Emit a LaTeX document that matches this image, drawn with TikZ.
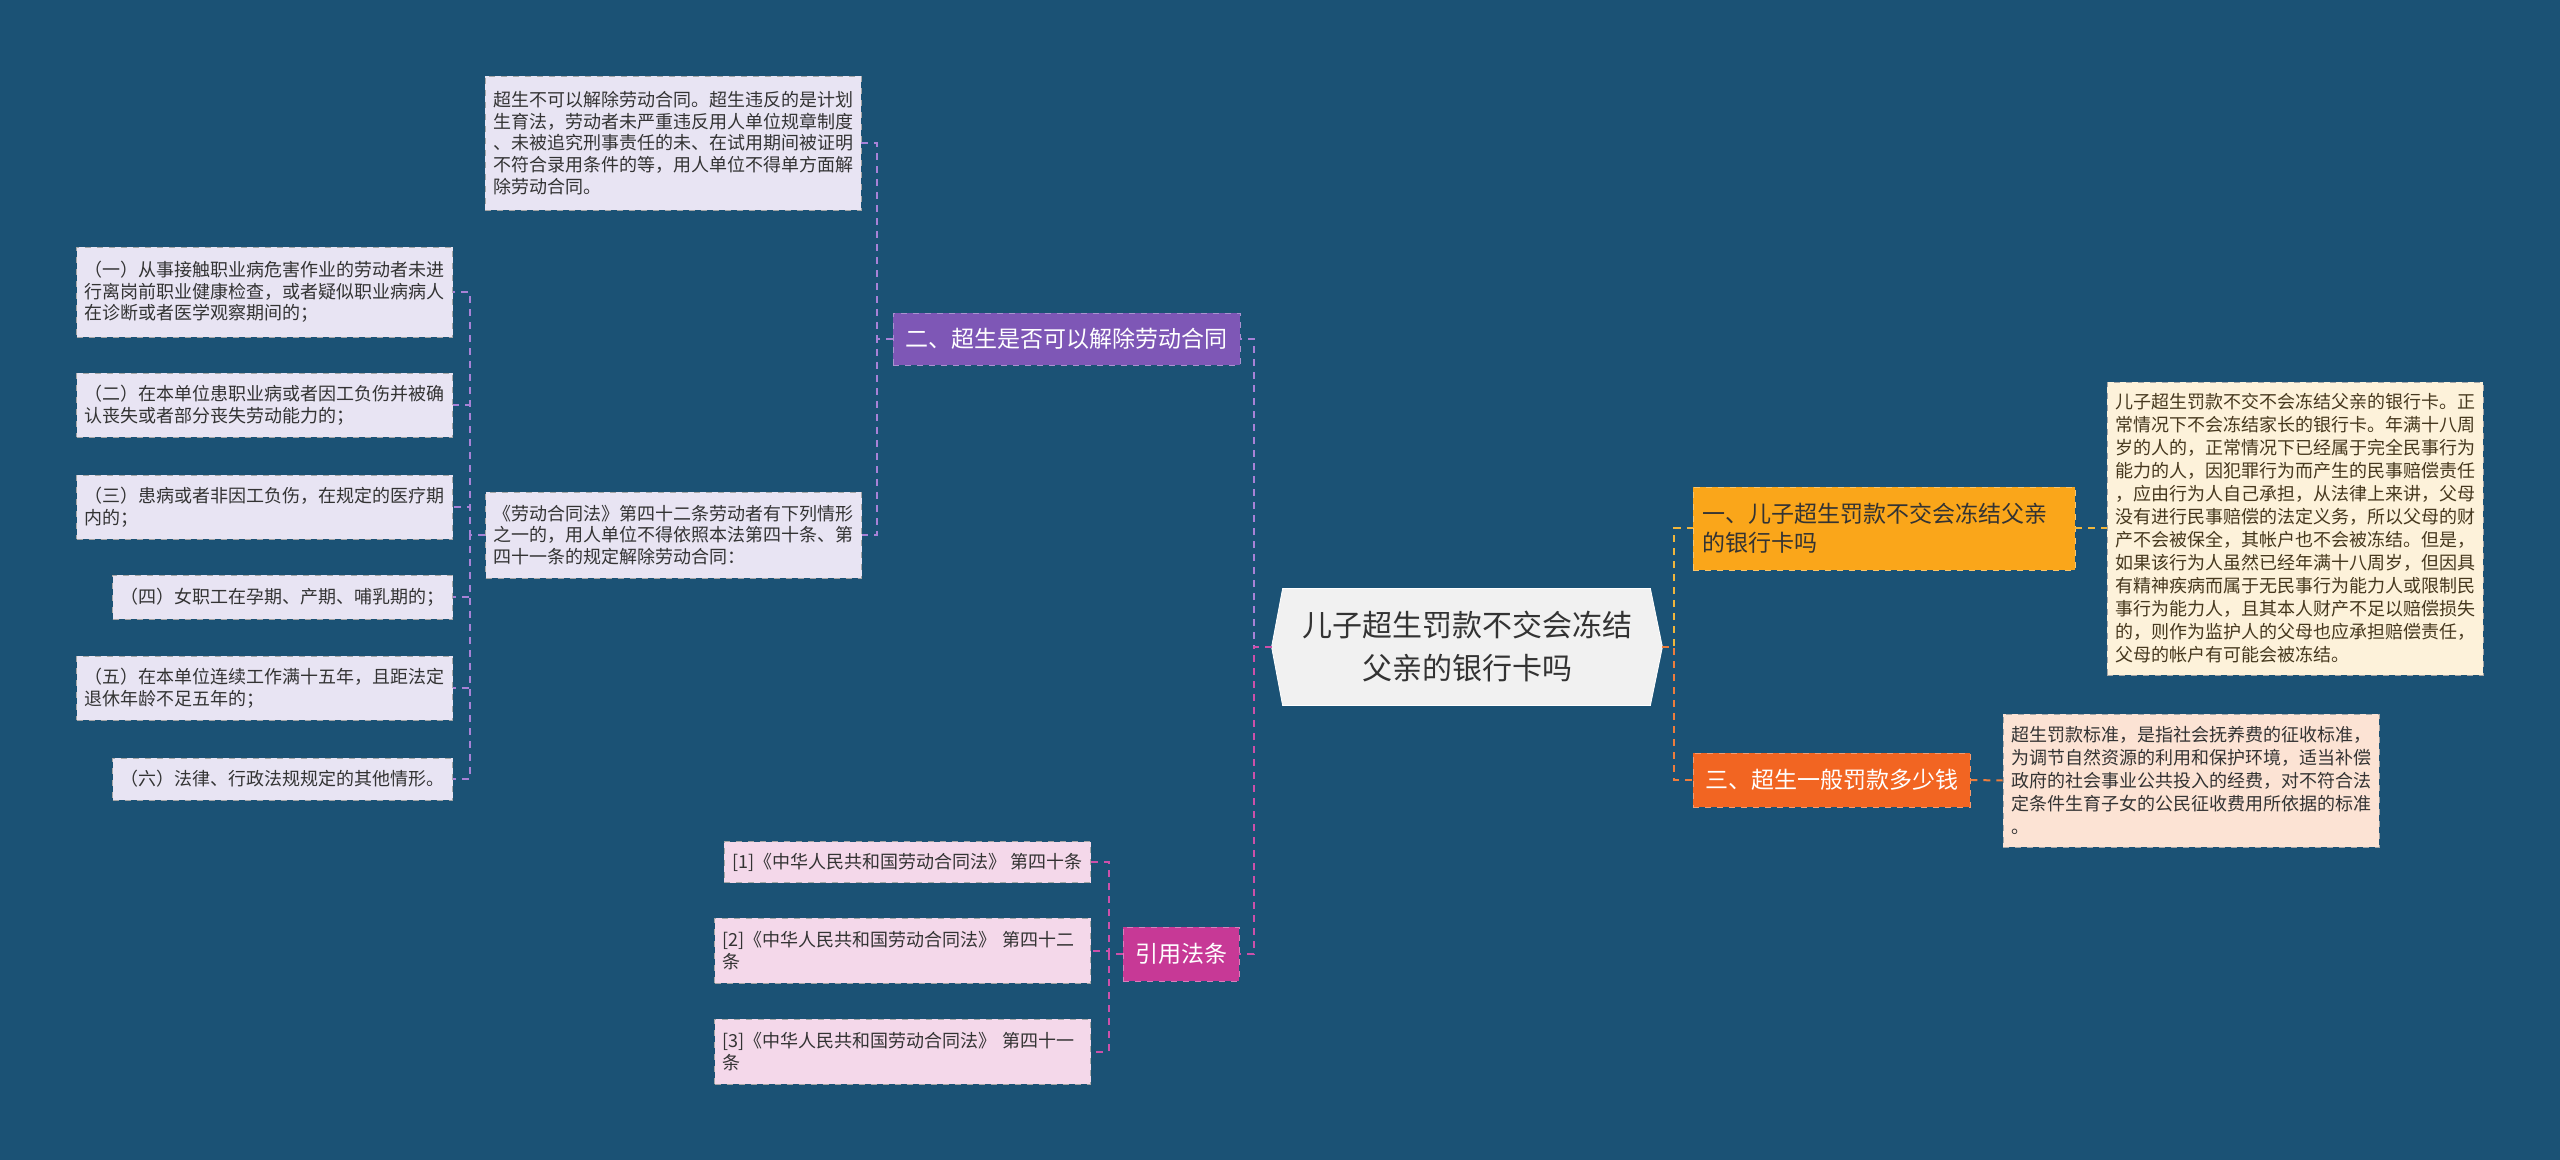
\documentclass[tikz,border=0pt]{standalone}
\usepackage{fontspec}
\setmainfont{Noto Sans CJK SC}
\usetikzlibrary{backgrounds}
\definecolor{bgblue}{RGB}{27,82,117}
\definecolor{txtdark}{RGB}{51,51,51}
\definecolor{rootfill}{RGB}{241,241,241}
\definecolor{purpletopic}{RGB}{126,87,182}
\definecolor{lavleaf}{RGB}{232,228,243}
\definecolor{lavlink}{RGB}{168,130,215}
\definecolor{citetopic}{RGB}{199,57,150}
\definecolor{citeleaf}{RGB}{244,216,234}
\definecolor{citelink}{RGB}{205,80,170}
\definecolor{goldtopic}{RGB}{250,166,26}
\definecolor{goldleaf}{RGB}{253,242,218}
\definecolor{goldlink}{RGB}{240,182,60}
\definecolor{redtopic}{RGB}{242,101,34}
\definecolor{redleaf}{RGB}{252,227,212}
\definecolor{redlink}{RGB}{238,125,60}

\begin{document}
\begin{tikzpicture}[
x=0.5pt,y=-0.5pt,
root/.style={rectangle,text=txtdark,align=center,inner sep=0pt,minimum width=195pt,minimum height=58pt,font=\fontsize{15}{21.5}\selectfont},
topic/.style={rectangle,fill=#1,draw=white!35!#1,dashed,thin,inner sep=0pt,font=\fontsize{11.5}{14.5}\selectfont},
leaf/.style={rectangle,fill=#1,draw=black!35,dashed,thin,text=txtdark,align=left,inner xsep=4pt,inner ysep=2pt,font=\fontsize{9}{10.8}\selectfont},
wide/.style={text width=180pt},
link/.style={draw=#1,dash pattern=on 3.5pt off 3pt,line width=1pt}
]

% Draw root
\node [root] (root) at (1467,647) {儿子超生罚款不交会冻结\\父亲的银行卡吗};

% Draw topics
\node [topic=purpletopic,text=white,minimum width=173.5pt,minimum height=26pt] (contract) at (1066.5,339) {二、超生是否可以解除劳动合同};
\node [topic=citetopic,text=white,minimum width=58pt,minimum height=27pt] (cite) at (1181,954) {引用法条};
\node [topic=goldtopic,text=txtdark,align=left,text width=182pt,inner xsep=4.5pt,minimum height=41.5pt] (freeze) at (1884,528.5) {一、儿子超生罚款不交会冻结父亲\\的银行卡吗};
\node [topic=redtopic,text=white,minimum width=138.5pt,minimum height=27pt] (amount) at (1831.5,780) {三、超生一般罚款多少钱};

% Draw leaves: contract
\node [leaf=lavleaf,wide,minimum height=67pt] (plan) at (673,143) {超生不可以解除劳动合同。超生违反的是计划\\生育法，劳动者未严重违反用人单位规章制度\\、未被追究刑事责任的未、在试用期间被证明\\不符合录用条件的等，用人单位不得单方面解\\除劳动合同。};
\node [leaf=lavleaf,wide,minimum height=43pt] (law) at (673.5,535) {《劳动合同法》第四十二条劳动者有下列情形\\之一的，用人单位不得依照本法第四十条、第\\四十一条的规定解除劳动合同：};

\node [leaf=lavleaf,wide,minimum height=45pt] (c1) at (264.5,292) {（一）从事接触职业病危害作业的劳动者未进\\行离岗前职业健康检查，或者疑似职业病病人\\在诊断或者医学观察期间的；};
\node [leaf=lavleaf,wide,minimum height=32pt] (c2) at (264.5,405) {（二）在本单位患职业病或者因工负伤并被确\\认丧失或者部分丧失劳动能力的；};
\node [leaf=lavleaf,wide,minimum height=32pt] (c3) at (264.5,507) {（三）患病或者非因工负伤，在规定的医疗期\\内的；};
\node [leaf=lavleaf,anchor=east,minimum height=22pt] (c4) at (453,597) {（四）女职工在孕期、产期、哺乳期的；};
\node [leaf=lavleaf,wide,minimum height=32pt] (c5) at (264.5,688) {（五）在本单位连续工作满十五年，且距法定\\退休年龄不足五年的；};
\node [leaf=lavleaf,anchor=east,minimum height=21pt] (c6) at (453,779) {（六）法律、行政法规规定的其他情形。};

% Draw leaves: cite
\node [leaf=citeleaf,anchor=east,minimum height=20.5pt] (r1) at (1091,862) {[1]《中华人民共和国劳动合同法》 第四十条};
\node [leaf=citeleaf,wide,anchor=east,minimum height=32.5pt] (r2) at (1091,950.5) {[2]《中华人民共和国劳动合同法》 第四十二\\条};
\node [leaf=citeleaf,wide,anchor=east,minimum height=32.5pt] (r3) at (1091,1051.5) {[3]《中华人民共和国劳动合同法》 第四十一\\条};

% Draw leaves: right side
\node [leaf=goldleaf,wide,minimum height=146.5pt,font=\fontsize{9}{11.5}\selectfont,text={rgb,255:red,70;green,56;blue,30}] (reason) at (2295,528.5) {儿子超生罚款不交不会冻结父亲的银行卡。正\\常情况下不会冻结家长的银行卡。年满十八周\\岁的人的，正常情况下已经属于完全民事行为\\能力的人，因犯罪行为而产生的民事赔偿责任\\，应由行为人自己承担，从法律上来讲，父母\\没有进行民事赔偿的法定义务，所以父母的财\\产不会被保全，其帐户也不会被冻结。但是，\\如果该行为人虽然已经年满十八周岁，但因具\\有精神疾病而属于无民事行为能力人或限制民\\事行为能力人，且其本人财产不足以赔偿损失\\的，则作为监护人的父母也应承担赔偿责任，\\父母的帐户有可能会被冻结。};
\node [leaf=redleaf,wide,minimum height=66.5pt,font=\fontsize{9}{11.6}\selectfont] (standard) at (2191,780.5) {超生罚款标准，是指社会抚养费的征收标准，\\为调节自然资源的利用和保护环境，适当补偿\\政府的社会事业公共投入的经费，对不符合法\\定条件生育子女的公民征收费用所依据的标准\\。};

% Draw links: root to topics
\draw [link=lavlink] (root.west) -- ++(-18,0) |- (contract.east);
\draw [link=citelink] (root.west) -- ++(-18,0) |- (cite.east);
\draw [link=goldlink] (root.east) -- ++(12,0) |- (freeze.west);
\draw [link=redlink] (root.east) -- ++(12,0) |- (amount.west);

% Draw links: topics to leaves
\foreach \n in {plan,law}
  \draw [link=lavlink] (contract.west) -- ++(-16,0) |- (\n.east);
\foreach \n in {c1,c2,c3,c4,c5,c6}
  \draw [link=lavlink] (law.west) -- ++(-15,0) |- (\n.east);
\foreach \n in {r1,r2,r3}
  \draw [link=citelink] (cite.west) -- ++(-14,0) |- (\n.east);
\draw [link=goldlink] (freeze.east) -- (reason.west);
\draw [link=redlink] (amount.east) -- (standard.west);

% Background and root shape
\begin{scope}[on background layer]
\fill [bgblue] (0,0) rectangle (2560,1160);
\filldraw [fill=rootfill,draw=white,thin] ([xshift=5.5pt]root.north west) -- ([xshift=-6pt]root.north east) -- (root.east) -- ([xshift=-6pt]root.south east) -- ([xshift=5.5pt]root.south west) -- (root.west) -- cycle;
\end{scope}

\end{tikzpicture}
\end{document}
